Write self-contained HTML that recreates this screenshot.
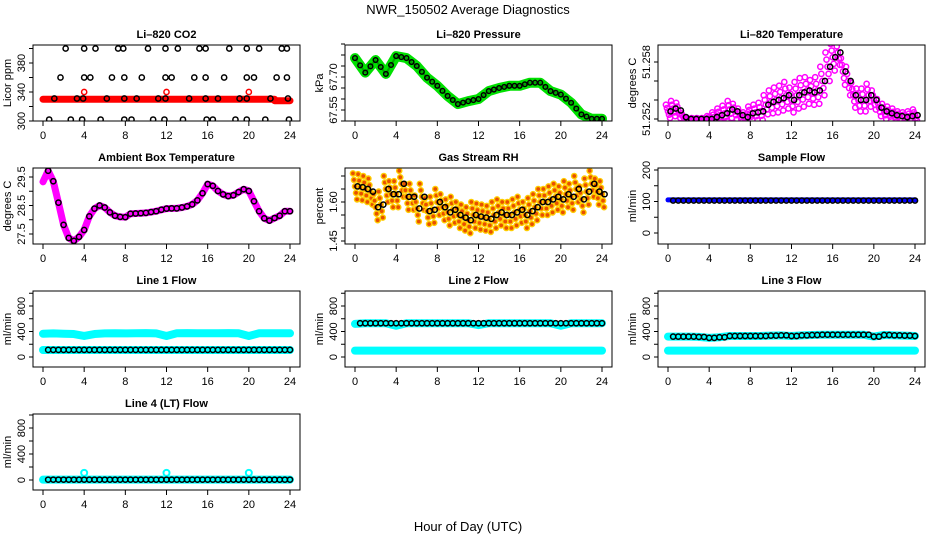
<!DOCTYPE html>
<html><head><meta charset="utf-8"><style>
body{margin:0;background:#fff}
svg{display:block;font-family:"Liberation Sans",sans-serif}
</style></head><body>
<svg id="c" width="936" height="540" viewBox="0 0 936 540" xmlns="http://www.w3.org/2000/svg">
<rect width="936" height="540" fill="#fff"/>
<text x="468" y="14" text-anchor="middle" font-size="13">NWR_150502  Average Diagnostics</text>
<text x="468" y="531" text-anchor="middle" font-size="13">Hour of Day (UTC)</text>
</svg>
<script>
// ---------- data (hours at 0.5h steps 0..24) ----------
const halfHours = [0,0.5,1,1.5,2,2.5,3,3.5,4,4.5,5,5.5,6,6.5,7,7.5,8,8.5,9,9.5,10,10.5,11,11.5,12,12.5,13,13.5,14,14.5,15,15.5,16,16.5,17,17.5,18,18.5,19,19.5,20,20.5,21,21.5,22,22.5,23,23.5,24];
const hourly = [0,1,2,3,4,5,6,7,8,9,10,11,12,13,14,15,16,17,18,19,20,21,22,23,24];

// CO2
const co2RedHours = [0,22.5,22.5,24];
const co2RedVals = [330,330,328,328];
const co2OutHours = [4,12,20];
const co2OutVals = [340,340,340];
const co2TopHours = [2.2,4.0,5.1,7.3,7.8,10.2,11.9,13.1,15.2,15.8,18.1,19.8,21.0,23.2,23.7];
const co2MidHours = [1.7,4.0,4.6,6.7,7.9,9.6,11.9,12.5,14.7,15.8,17.6,19.8,20.5,22.7,23.7];
const co2BaseHours = [1.1,3.3,3.9,6.2,7.9,9.1,11.2,11.9,14.2,15.8,17.0,19.1,19.8,22.1,23.8];
const co2LowHours = [0.6,2.7,3.8,5.6,7.9,8.6,10.7,11.8,13.6,15.9,16.5,18.7,19.8,21.6,23.9];

// Pressure (kPa), hourly
const pressVals = [67.786,67.72,67.777,67.714,67.795,67.786,67.75,67.697,67.66,67.614,67.577,67.59,67.60,67.636,67.65,67.66,67.66,67.674,67.674,67.636,67.62,67.583,67.53,67.51,67.51];

// Li-820 temperature, half-hourly
const tempVals = [51.2528,51.2531,51.2529,51.2522,51.2520,51.2520,51.2520,51.2520,51.2520,51.2522,51.2524,51.2526,51.2530,51.2528,51.2524,51.2522,51.2526,51.2527,51.2528,51.2535,51.2538,51.2540,51.2542,51.2545,51.2540,51.2545,51.2548,51.2550,51.2548,51.2550,51.2560,51.2575,51.2585,51.2590,51.2570,51.2560,51.2545,51.2540,51.2540,51.2545,51.2540,51.2532,51.2528,51.2526,51.2524,51.2523,51.2522,51.2523,51.2524];
const tempSpread = [0.0007,0.0008,0.0008,0.0004,0.0001,0.0001,0.0001,0.0001,0.0003,0.0005,0.0007,0.0008,0.0009,0.0008,0.0007,0.0005,0.0007,0.0008,0.0009,0.0010,0.0012,0.0013,0.0013,0.0014,0.0013,0.0014,0.0015,0.0014,0.0013,0.0014,0.0015,0.0015,0.0014,0.0013,0.0014,0.0015,0.0013,0.0012,0.0012,0.0012,0.0010,0.0009,0.0008,0.0007,0.0007,0.0005,0.0005,0.0005,0.0006];

// Ambient box temperature, half-hourly
const ambVals = [29.33,29.72,29.35,28.6,27.82,27.36,27.26,27.40,27.64,28.12,28.39,28.5,28.43,28.26,28.14,28.1,28.09,28.21,28.22,28.23,28.24,28.27,28.3,28.35,28.39,28.40,28.40,28.43,28.47,28.54,28.68,28.93,29.25,29.19,29.01,28.89,28.83,28.86,28.97,29.07,29.01,28.65,28.3,28.05,27.97,28.06,28.14,28.3,28.3];

// Gas stream RH, half-hourly
const rhVals = [1.66,1.657,1.65,1.64,1.58,1.59,1.65,1.63,1.63,1.67,1.62,1.62,1.575,1.62,1.565,1.57,1.60,1.58,1.56,1.57,1.55,1.54,1.53,1.55,1.544,1.54,1.535,1.55,1.56,1.55,1.55,1.56,1.57,1.55,1.565,1.58,1.60,1.60,1.61,1.62,1.61,1.63,1.62,1.65,1.61,1.64,1.67,1.64,1.63];
const rhSpread = [0.05,0.05,0.05,0.05,0.05,0.05,0.05,0.05,0.05,0.05,0.05,0.05,0.05,0.05,0.05,0.05,0.05,0.05,0.05,0.05,0.05,0.05,0.05,0.05,0.05,0.05,0.05,0.05,0.05,0.05,0.05,0.05,0.05,0.05,0.05,0.05,0.05,0.05,0.05,0.05,0.05,0.05,0.05,0.05,0.05,0.05,0.05,0.05,0.05];

// Flows
const sampleBlue = 105, sampleBlack = 103;
const line1Upper = [365,370,365,360,330,360,370,372,370,372,375,370,330,372,375,373,372,372,375,372,330,372,372,372,372];
const line1Lower = 110, line1Black = 112;
const line2Upper = [520,530,530,530,490,530,530,530,530,530,530,530,500,530,530,530,530,530,530,530,490,530,530,530,530];
const line2Lower = 100;
const line3Upper = [320,320,320,315,300,310,330,330,330,330,335,340,330,340,345,350,350,350,350,350,320,345,340,335,330];
const line3Lower = 100;
const line4Base = 5;
const line4OutHours = [4,12,20];
const line4OutVals = [110,110,110];

const xTicks = [0,4,8,12,16,20,24];

// ---------- drawing ----------
const svg = document.getElementById('c');
const NS = 'http://www.w3.org/2000/svg';
function mk(tag, attrs, parent){const e=document.createElementNS(NS,tag);for(const k in attrs)e.setAttribute(k,attrs[k]);(parent||svg).appendChild(e);return e;}

const W=267,H=76;
function panel(o){
  const g=mk('g',{});
  
  
  const L=o.left,T=o.top;
  const x=h=>L+10+h*247/24;
  const y=v=>o.py0+(v-o.v0)*(o.py1-o.py0)/(o.v1-o.v0);
  const t=mk('text',{x:L+W/2,y:T-7,'text-anchor':'middle','font-size':11,'font-weight':'bold'},g);
  t.textContent=o.title;
  
  
  const plot=mk('g',{},g);
  
  
  const clip='cl'+o.name;
  const cp=mk('clipPath',{id:clip},g);mk('rect',{x:L,y:T,width:W,height:H},cp);
  plot.setAttribute('clip-path','url(#'+clip+')');
  o.draw(plot,x,y);
  mk('rect',{x:L,y:T,width:W,height:H,fill:'none',stroke:'#000','stroke-width':1},g);
  // x axis
  const xa=mk('g',{},g);
  
  
  xTicks.forEach(h=>{
    mk('line',{x1:x(h),x2:x(h),y1:T+H,y2:T+H+5,stroke:'#000'},xa);
    const tx=mk('text',{x:x(h),y:T+H+18,'text-anchor':'middle','font-size':11},xa);
    tx.textContent=h;
    
    
  });
  // y axis
  const ya=mk('g',{},g);
  
  
  o.yticks.forEach(v=>{
    const py=y(v); if(py<T-12||py>T+H+12)return;
    mk('line',{x1:L-4,x2:L,y1:py,y2:py,stroke:'#000'},ya);
  });
  o.ylabels.forEach(v=>{
    const py=y(v);
    const tx=mk('text',{x:L-8,y:py,'text-anchor':'middle','font-size':11,transform:`rotate(-90 ${L-8} ${py})`},ya);
    tx.textContent=o.fmt?o.fmt(v):v;
    
    
  });
  const yt=mk('text',{x:L-22,y:T+H/2,'text-anchor':'middle','font-size':11,transform:`rotate(-90 ${L-22} ${T+H/2})`},ya);
  yt.textContent=o.ytitle;
  
  
}
function circ(p,cx,cy,stroke,fill,r,sw){const c=mk('circle',{cx,cy,r:r||2.6,fill:fill||'none',stroke,'stroke-width':sw||1.5},p);return c;}
function band(p,xs,ys,color,width){
  const pl=mk('polyline',{points:xs.map((v,i)=>xs[i]+','+ys[i]).join(' '),fill:'none',stroke:color,'stroke-width':width,'stroke-linejoin':'round','stroke-linecap':'round'},p);
  
  
}
const cols=[33,345,658], rows=[45,168,291,414];
function range(a,b,s){const r=[];for(let v=a;v<=b+s/1000;v+=s)r.push(+v.toFixed(6));return r;}

panel({name:'co2-panel',title:'Li\u2013820 CO2',ytitle:'Licor ppm',left:cols[0],top:rows[0],v0:300,py0:121,v1:380,py1:63,
  yticks:range(300,400,20),ylabels:[300,340,380],
  draw:(p,x,y)=>{
    band(p,co2RedHours.map(x),co2RedVals.map(y),'#f00',7);
    co2OutHours.forEach((h,i)=>circ(p,x(h),y(co2OutVals[i]),'#f00'));
    co2TopHours.forEach(h=>circ(p,x(h),y(400),'#000'));
    co2MidHours.forEach(h=>circ(p,x(h),y(360),'#000'));
    co2BaseHours.forEach(h=>circ(p,x(h),y(331),'#000'));
    co2LowHours.forEach(h=>circ(p,x(h),y(302),'#000'));
  }});

panel({name:'pressure-panel',title:'Li\u2013820 Pressure',ytitle:'kPa',left:cols[1],top:rows[0],v0:67.55,py0:110,v1:67.70,py1:77,
  yticks:range(67.50,67.85,0.05),ylabels:[67.55,67.70],fmt:v=>v.toFixed(2),
  draw:(p,x,y)=>{
    band(p,hourly.map(x),pressVals.map(y),'#00e000',10);
    band(p,hourly.map(x),pressVals.map(y),'#00a000',2);
    hourly.forEach((h,i)=>{ if(i<24){ circ(p,x(h+0.5),y((pressVals[i]+pressVals[i+1])/2),'#000',null,2.3); } circ(p,x(h),y(pressVals[i]),'#000',null,2.3); });
  }});

panel({name:'li820-temperature-panel',title:'Li\u2013820 Temperature',ytitle:'degrees C',left:cols[2],top:rows[0],v0:51.252,py0:119,v1:51.258,py1:62,
  yticks:range(51.252,51.258,0.002),ylabels:[51.252,51.258],fmt:v=>v.toFixed(3),
  draw:(p,x,y)=>{
    halfHours.forEach((h,i)=>{
      const m=tempVals[i],s=tempSpread[i];
      [m+s,m+s/2,m,m-s/2,m-s].forEach((v,k)=>circ(p,x(h+(k-2)*0.1),y(v),'#ff00ff',null,2.6,1.5));
    });
    halfHours.forEach((h,i)=>circ(p,x(h+0.25),y(tempVals[i]),'#000'));
  }});

panel({name:'ambient-temperature-panel',title:'Ambient Box Temperature',ytitle:'degrees C',left:cols[0],top:rows[1],v0:27.5,py0:234,v1:29.5,py1:177,
  yticks:range(27.5,29.5,0.5),ylabels:[27.5,28.5,29.5],fmt:v=>v.toFixed(1),
  draw:(p,x,y)=>{
    band(p,halfHours.map(x),ambVals.map(y),'#ff00ff',7);
    halfHours.forEach((h,i)=>{ if(i>0) circ(p,x(h),y(ambVals[i]),'#000'); });
  }});

panel({name:'rh-panel',title:'Gas Stream RH',ytitle:'percent',left:cols[1],top:rows[1],v0:1.45,py0:241,v1:1.60,py1:202,
  yticks:range(1.45,1.70,0.05),ylabels:[1.45,1.60],fmt:v=>v.toFixed(2),
  draw:(p,x,y)=>{
    halfHours.forEach((h,i)=>{
      const m=rhVals[i],s=rhSpread[i];
      [m+s,m+s/2,m,m-s/2,m-s].forEach((v,k)=>circ(p,x(h+(k-2)*0.1),y(v),'#ffcc00','#e85000',2.6,1.4));
    });
    halfHours.forEach((h,i)=>circ(p,x(h+0.25),y(rhVals[i]),'#000'));
  }});

panel({name:'sample-flow-panel',title:'Sample Flow',ytitle:'ml/min',left:cols[2],top:rows[1],v0:0,py0:233,v1:200,py1:170,
  yticks:range(0,200,50),ylabels:[0,100,200],
  draw:(p,x,y)=>{
    band(p,[x(0),x(24)],[y(sampleBlue),y(sampleBlue)],'#0000ff',5);
    halfHours.forEach(h=>{ if(h>0) circ(p,x(h),y(sampleBlack),'#000'); });
  }});

function flowPanel(name,title,col,row,py0,py1,upper,lower,blackVals){
  panel({name,title,ytitle:'ml/min',left:cols[col],top:rows[row],v0:0,py0,v1:800,py1,
    yticks:range(0,1000,200),ylabels:[0,400,800],
    draw:(p,x,y)=>{
      if(upper) band(p,hourly.map(x),upper.map(y),'#00ffff',8);
      band(p,[x(0),x(24)],[y(lower),y(lower)],'#00ffff',8);
      blackVals(p,x,y);
    }});
}
flowPanel('line1-flow-panel','Line 1 Flow',0,2,357,306,line1Upper,line1Lower,(p,x,y)=>{
  halfHours.forEach(h=>{ if(h>0) circ(p,x(h),y(line1Black),'#000'); });
});
flowPanel('line2-flow-panel','Line 2 Flow',1,2,357,306,line2Upper,line2Lower,(p,x,y)=>{
  halfHours.forEach(h=>{ if(h>0) circ(p,x(h),y(530),'#000'); });
});
flowPanel('line3-flow-panel','Line 3 Flow',2,2,357,306,line3Upper,line3Lower,(p,x,y)=>{
  halfHours.forEach((h,i)=>{ if(h>0) circ(p,x(h),y(line3Upper[Math.floor(i/2)]),'#000'); });
});
flowPanel('line4-flow-panel','Line 4 (LT) Flow',0,3,480,428,null,line4Base,(p,x,y)=>{
  line4OutHours.forEach((h,i)=>circ(p,x(h),y(line4OutVals[i]),'#00ffff',null,3,2));
  halfHours.forEach(h=>{ if(h>0) circ(p,x(h),y(line4Base),'#000'); });
});
</script>
</body></html>
